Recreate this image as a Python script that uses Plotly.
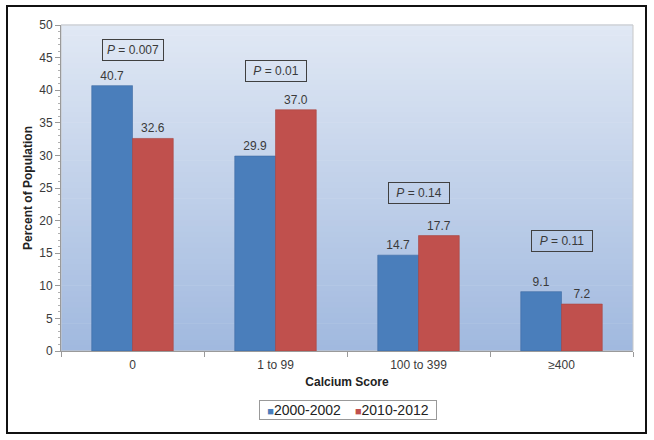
import plotly.graph_objects as go

categories = ["0", "1 to 99", "100 to 399", "≥400"]
series_names = ["2000-2002", "2010-2012"]
values_2000 = [40.7, 29.9, 14.7, 9.1]
values_2010 = [32.6, 37.0, 17.7, 7.2]
p_labels = ["<i>P</i> = 0.007", "<i>P</i> = 0.01", "<i>P</i> = 0.14", "<i>P</i> = 0.11"]
p_y = [46.2, 42.9, 24.2, 16.8]

FONT = "Liberation Sans, Arial, sans-serif"
TXT = "#3a3a3a"
BLUE = "#4a7ebb"
RED = "#c0504d"
colors = [BLUE, RED]

fig = go.Figure()
for name, vals, col, edge in zip(series_names, [values_2000, values_2010], colors, ["#3d6aa3", "#a84340"]):
    fig.add_trace(go.Bar(
        x=categories, y=vals, name=name, showlegend=False,
        marker=dict(color=col, line=dict(color=edge, width=0.6)),
        texttemplate="%{y:.1f}", textposition="outside",
        textfont=dict(size=12, color=TXT, family=FONT), cliponaxis=False,
    ))

# gradient plot background via stacked stripes
shapes = []
n = 60
top = (224, 232, 244)
bot = (161, 185, 223)
for i in range(n):
    t = i / (n - 1)
    c = tuple(round(bot[k] + (top[k] - bot[k]) * t) for k in range(3))
    shapes.append(dict(type="rect", xref="x domain", yref="y domain",
                       x0=0, x1=1, y0=i / n, y1=(i + 1) / n + 0.002,
                       fillcolor="rgb(%d,%d,%d)" % c, line=dict(width=0), layer="below"))
# plot-area border
shapes.append(dict(type="rect", xref="paper", yref="paper", x0=0, x1=1, y0=0, y1=1,
                   line=dict(color="#c8c8c8", width=1), layer="below"))
# outer frame
W, H = 654, 440
l, r, t, b = 61, 21, 25, 89
pw, ph = W - l - r, H - t - b
def px(xp): return (xp - l) / pw
def py(yp): return (H - b - yp) / ph
shapes.append(dict(type="rect", xref="paper", yref="paper",
                   x0=px(7), x1=px(646), y0=py(433), y1=py(6),
                   line=dict(color="#111111", width=2)))

annotations = []
for i, (lab, yv) in enumerate(zip(p_labels, p_y)):
    annotations.append(dict(x=categories[i], y=yv, xref="x", yref="y", text=lab,
                            showarrow=False, font=dict(size=12, color=TXT, family=FONT),
                            bordercolor="#404040", borderwidth=1, borderpad=3, width=54))

# legend box (series keys)
legend_text = "\u2003".join(
    "<span style='color:%s;font-size:11px'>■</span>%s" % (c, nm) for c, nm in zip(colors, series_names))
annotations.append(dict(x=px(348), y=py(410), xref="paper", yref="paper", text=legend_text,
                        showarrow=False, xanchor="center", yanchor="middle",
                        font=dict(size=14, color="#222222", family=FONT),
                        bordercolor="#999999", borderwidth=1, borderpad=1, width=174))

fig.update_layout(
    width=W, height=H,
    margin=dict(l=l, r=r, t=t, b=b, autoexpand=False),
    paper_bgcolor="white", plot_bgcolor="rgba(0,0,0,0)",
    font=dict(family=FONT, size=12, color=TXT),
    barmode="group", bargap=0.43, bargroupgap=0,
    shapes=shapes, annotations=annotations,
    showlegend=False,
    xaxis=dict(showline=True, linecolor="#9a9a9a", linewidth=1,
               ticks="outside", tickson="boundaries", ticklen=5, tickcolor="#9a9a9a",
               ticklabelstandoff=3,
               tickfont=dict(size=12, color=TXT), automargin=False,
               title=dict(text="<b>Calcium Score</b>", font=dict(size=12, color="#222222"), standoff=6),
               showgrid=False),
    yaxis=dict(range=[0, 50], dtick=5, showline=True, linecolor="#9a9a9a", linewidth=1,
               ticks="outside", ticklen=5, tickcolor="#9a9a9a", automargin=False,
               minor=dict(dtick=1, ticks="outside", ticklen=2, tickcolor="#b0b0b0"),
               tickfont=dict(size=12, color=TXT), showgrid=False, zeroline=False,
               title=dict(text="<b>Percent of Population</b>", font=dict(size=12, color="#222222"), standoff=4)),
)

fig.write_html("out.html", config={"displayModeBar": False},
               post_script="document.body.style.margin='0';document.body.style.overflow='hidden';")
